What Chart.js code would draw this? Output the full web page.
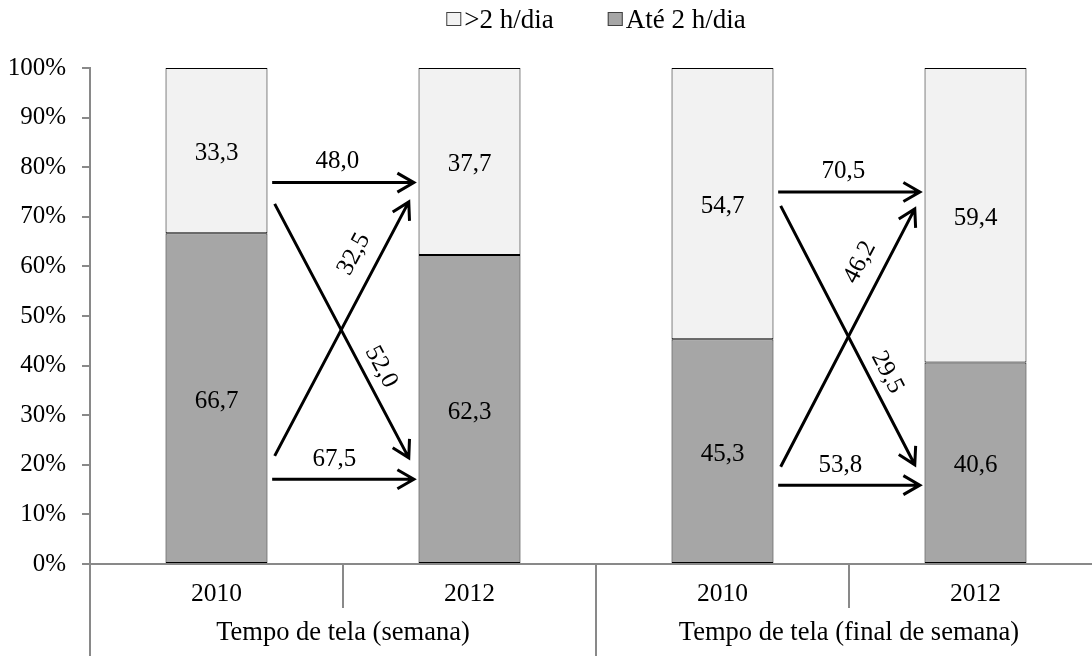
<!DOCTYPE html>
<html>
<head>
<meta charset="utf-8">
<script src="https://cdn.jsdelivr.net/npm/chart.js@4/dist/chart.umd.min.js"></script>
<style>
  html, body { margin: 0; padding: 0; background: #ffffff; overflow: hidden; }
  #wrap { position: absolute; left: 0; top: 0; width: 1104px; height: 656px; }
</style>
</head>
<body>
<div id="wrap"><canvas id="c" width="1104" height="656"></canvas></div>
<script>
// Years on the inner axis and the two screen-time groups below them
const years = ['2010', '2012', '2010', '2012'];
const groupLabels = ['Tempo de tela (semana)', 'Tempo de tela (final de semana)'];

// Share of adolescents (%) per year
const seriesNames = ['Até 2 h/dia', '>2 h/dia'];
const upTo2h = [66.7, 62.3, 45.3, 40.6];
const over2h = [33.3, 37.7, 54.7, 59.4];

// Percent axis ticks
const yTickValues = [0, 10, 20, 30, 40, 50, 60, 70, 80, 90, 100];

// Transitions between 2010 and 2012 (%), one value per group
const stayOver = [48.0, 70.5];     // >2 h/dia -> >2 h/dia
const overToUpTo = [52.0, 29.5];   // >2 h/dia -> até 2 h/dia
const upToToOver = [32.5, 46.2];   // até 2 h/dia -> >2 h/dia
const stayUpTo = [67.5, 53.8];     // até 2 h/dia -> até 2 h/dia

const FONT = '"Liberation Serif", "Times New Roman", Times, "DejaVu Serif", serif';
const AXIS_GREY = '#898989';
const fmt = v => v.toFixed(1).replace('.', ',');

// Arrow levels on the percent axis for each group: [start, end]
const arrowLevels = [
  { stayOver: [76.9, 76.9], overToUpTo: [72.6, 21.4], upToToOver: [21.8, 73.0], stayUpTo: [17.1, 17.1] },
  { stayOver: [75.0, 75.0], overToUpTo: [72.2, 20.0], upToToOver: [19.6, 71.6], stayUpTo: [15.9, 15.9] }
];

function drawArrow(ctx, x0, y0, x1, y1) {
  const a = Math.atan2(y1 - y0, x1 - x0);
  const head = 19, spread = Math.PI / 6;
  ctx.beginPath();
  ctx.moveTo(x0, y0);
  ctx.lineTo(x1, y1);
  ctx.moveTo(x1 - head * Math.cos(a - spread), y1 - head * Math.sin(a - spread));
  ctx.lineTo(x1, y1);
  ctx.lineTo(x1 - head * Math.cos(a + spread), y1 - head * Math.sin(a + spread));
  ctx.stroke();
}

// Text along an arrow: t is the fraction along it, off the distance above it
function drawArrowLabel(ctx, text, x0, y0, x1, y1, t, off, rotate) {
  const dx = x1 - x0, dy = y1 - y0, len = Math.hypot(dx, dy);
  const ux = dx / len, uy = dy / len;
  const nx = uy, ny = -ux;
  const px = x0 + dx * t + nx * off, py = y0 + dy * t + ny * off;
  ctx.save();
  ctx.translate(px, py);
  if (rotate) ctx.rotate(Math.atan2(dy, dx));
  ctx.fillText(text, 0, 0);
  ctx.restore();
}

const annotations = {
  id: 'annotations',
  afterDatasetsDraw(chart) {
    const ctx = chart.ctx;
    const x = chart.scales.x, y = chart.scales.y;
    ctx.save();
    ctx.fillStyle = '#000';
    ctx.font = '25px ' + FONT;
    ctx.textAlign = 'center';
    ctx.textBaseline = 'middle';

    // values inside the stacked segments
    chart.data.datasets.forEach((ds, di) => {
      chart.getDatasetMeta(di).data.forEach((bar, i) => {
        const c = bar.getCenterPoint();
        ctx.fillText(fmt(ds.data[i]), c.x, c.y + 3);
      });
    });

    // transition arrows
    ctx.strokeStyle = '#000';
    ctx.lineWidth = 3;
    ctx.lineJoin = 'miter';
    const perGroup = years.length / groupLabels.length;
    groupLabels.forEach((g, gi) => {
      const base = gi * perGroup;
      const lv = arrowLevels[gi];
      const px = v => x.getPixelForValue(base + v);
      const py = v => y.getPixelForValue(v);
      const paths = [
        { lv: lv.stayOver, a: 0.22, b: 0.78, val: stayOver[gi], t: 0.46, off: 21, rot: false },
        { lv: lv.overToUpTo, a: 0.23, b: 0.76, val: overToUpTo[gi], t: 0.675, off: 18, rot: true },
        { lv: lv.upToToOver, a: 0.23, b: 0.76, val: upToToOver[gi], t: 0.75, off: 24, rot: true },
        { lv: lv.stayUpTo, a: 0.22, b: 0.78, val: stayUpTo[gi], t: 0.44, off: 20, rot: false }
      ];
      paths.forEach(p => {
        const x0 = px(p.a), x1 = px(p.b), y0 = py(p.lv[0]), y1 = py(p.lv[1]);
        drawArrow(ctx, x0, y0, x1, y1);
        drawArrowLabel(ctx, fmt(p.val), x0, y0, x1, y1, p.t, p.off, p.rot);
      });
    });
    ctx.restore();
  },
  afterDraw(chart) {
    const ctx = chart.ctx;
    const x = chart.scales.x;
    const area = chart.chartArea;
    const perGroup = years.length / groupLabels.length;
    ctx.save();

    // category separators under the axis, full height between groups
    ctx.strokeStyle = AXIS_GREY;
    ctx.lineWidth = 2;
    for (let b = 0; b <= years.length; b++) {
      const xp = Math.round(x.getPixelForValue(b - 0.5));
      const long = b % perGroup === 0;
      ctx.beginPath();
      ctx.moveTo(xp, area.bottom);
      ctx.lineTo(xp, long ? chart.height : area.bottom + 44);
      ctx.stroke();
    }

    // legend: >2 h/dia first, then Até 2 h/dia
    ctx.font = '27px ' + FONT;
    ctx.textBaseline = 'middle';
    ctx.textAlign = 'left';
    const boxW = 15, boxH = 14, gapText = 3, gapItem = 54, cy = 19;
    const items = chart.data.datasets.slice().reverse();
    const widths = items.map(d => boxW + gapText + ctx.measureText(d.label).width);
    const total = widths.reduce((s, w) => s + w, 0) + gapItem * (items.length - 1);
    let lx = (area.left + area.right) / 2 - total / 2;
    items.forEach((d, i) => {
      ctx.fillStyle = d.backgroundColor;
      ctx.fillRect(lx, cy - boxH / 2, boxW, boxH);
      ctx.strokeStyle = '#404040';
      ctx.lineWidth = 1;
      ctx.strokeRect(lx + 0.5, cy - boxH / 2 + 0.5, boxW - 1, boxH - 1);
      ctx.fillStyle = '#000';
      ctx.fillText(d.label, lx + boxW + gapText, cy + 2);
      lx += widths[i] + gapItem;
    });
    ctx.restore();
  }
};

function build() {
  Chart.defaults.font.family = FONT;
  new Chart(document.getElementById('c'), {
    type: 'bar',
    data: {
      labels: years,
      datasets: [
        { label: seriesNames[0], data: upTo2h, backgroundColor: '#a6a6a6' },
        { label: seriesNames[1], data: over2h, backgroundColor: '#f2f2f2' }
      ].map(d => Object.assign(d, {
        borderColor: '#000',
        borderWidth: 1,
        borderSkipped: false,
        categoryPercentage: 1,
        barPercentage: 0.403
      }))
    },
    options: {
      responsive: false,
      devicePixelRatio: 1,
      animation: false,
      layout: { padding: { top: 68, right: 2, bottom: 0, left: 0 } },
      plugins: { legend: { display: false }, tooltip: { enabled: false } },
      scales: {
        x: {
          stacked: true,
          offset: true,
          grid: { display: false, drawTicks: false },
          border: { display: true, color: AXIS_GREY, width: 2 },
          ticks: { color: '#000', font: { family: FONT, size: 25.5 }, padding: 15, maxRotation: 0 },
          afterFit: s => { s.height = 46; }
        },
        x2: {
          type: 'category',
          labels: groupLabels,
          position: 'bottom',
          offset: true,
          grid: { display: false, drawTicks: false },
          border: { display: false },
          ticks: { color: '#000', font: { family: FONT, size: 26.5 }, padding: 7, maxRotation: 0 },
          afterFit: s => { s.height = 46; }
        },
        y: {
          stacked: true,
          min: 0,
          max: 100,
          afterBuildTicks: s => { s.ticks = yTickValues.map(v => ({ value: v })); },
          grid: { display: true, drawOnChartArea: false, drawTicks: true, tickLength: 8, color: AXIS_GREY, lineWidth: 2 },
          border: { display: true, color: AXIS_GREY, width: 2 },
          ticks: { color: '#000', font: { family: FONT, size: 25 }, padding: 16, callback: v => v + '%' },
          afterFit: s => { s.width = 90; }
        }
      }
    },
    plugins: [annotations]
  });
}

if (document.fonts && document.fonts.load) {
  document.fonts.load('25px "Liberation Serif"').then(build, build);
} else {
  build();
}
</script>
</body>
</html>
